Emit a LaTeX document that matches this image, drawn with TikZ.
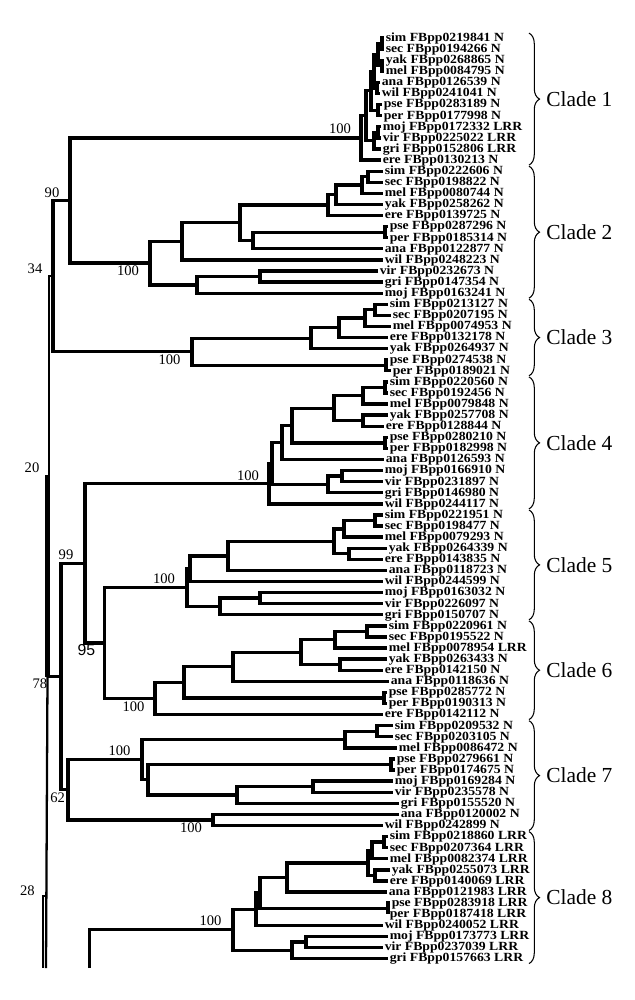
\documentclass[tikz,border=0pt]{standalone}
\usepackage{fontspec}
\setmainfont{Liberation Serif}
\newfontfamily\sansnum{Liberation Sans}
\newfontfamily\leaffont[FakeStretch=1.1]{Liberation Serif}
\usepackage{tikz}
\usetikzlibrary{calc}
\usetikzlibrary{decorations.pathreplacing}
\tikzset{leaf/.style={anchor=west, inner xsep=0.8pt, inner ysep=0pt, font=\leaffont\bfseries\fontsize{7.1}{7.5}\selectfont, text height=4.8pt, text depth=1pt}}
\tikzset{boot/.style={inner sep=0pt, font=\fontsize{8.3}{9}\selectfont}}
\tikzset{branch/.style={line width=1.9pt}}
\tikzset{spine/.style={line width=1.3pt}}
\tikzset{cladebrace/.style={decorate, decoration={brace, amplitude=6pt}, line width=0.6pt}}
\tikzset{cladename/.style={anchor=west, inner sep=0pt, font=\fontsize{12.2}{14}\selectfont}}
% leaf: name, row, tip x, text
\newcommand{\tipleaf}[4]{\coordinate (#1) at (#3,{38.1+11.09*#2}); \node[leaf] (#1t) at (#1) {#4};}
% inner node: name, x, upper child, lower child
\newcommand{\clnode}[4]{\path let \p1=(#3), \p2=(#4) in coordinate (#1) at ({#2*0.02cm},{0.5*(\y1+\y2)}); \draw[branch] (#3) -| (#1) |- (#4);}
% brace: name, first row, last row, text
\newcommand{\markclade}[4]{\coordinate (#1u) at (529,{38.1+11.09*#2-5}); \coordinate (#1d) at (529,{38.1+11.09*#3+5}); \draw[cladebrace] (#1u) -- (#1d); \node[cladename] (#1) at (546,{38.1+11.09*(#2+#3)/2}) {#4};}

\begin{document}
\begin{tikzpicture}[x=0.02cm, y=-0.02cm]
\useasboundingbox (0,0) rectangle (635,1000);

% clade 1
\tipleaf{aSim}{0}{384}{sim FBpp0219841 N}
\tipleaf{aSec}{1}{384}{sec FBpp0194266 N}
\tipleaf{aYak}{2}{384}{yak FBpp0268865 N}
\tipleaf{aMel}{3}{384}{mel FBpp0084795 N}
\tipleaf{aAna}{4}{380}{ana FBpp0126539 N}
\tipleaf{aWil}{5}{380}{wil FBpp0241041 N}
\tipleaf{aPse}{6}{382}{pse FBpp0283189 N}
\tipleaf{aPer}{7}{382}{per FBpp0177998 N}
\tipleaf{aMoj}{8}{381}{moj FBpp0172332 LRR}
\tipleaf{aVir}{9}{381}{vir FBpp0225022 LRR}
\tipleaf{aGri}{10}{381}{gri FBpp0152806 LRR}
\tipleaf{aEre}{11}{381}{ere FBpp0130213 N}
\clnode{a1}{382}{aSim}{aSec}
\clnode{a2}{382}{aYak}{aMel}
\clnode{a3}{378}{a1}{a2}
\clnode{a4}{377}{aAna}{aWil}
\clnode{a5}{374}{a3}{a4}
\clnode{a6}{378}{aPse}{aPer}
\clnode{a7}{371}{a5}{a6}
\clnode{a8}{378}{aMoj}{aVir}
\clnode{a9}{374}{a8}{aGri}
\clnode{a10}{366}{a7}{a9}
\clnode{a11}{361}{a10}{aEre}

% clade 2
\tipleaf{bSim}{12}{383}{sim FBpp0222606 N}
\tipleaf{bSec}{13}{383}{sec FBpp0198822 N}
\tipleaf{bMel}{14}{383}{mel FBpp0080744 N}
\tipleaf{bYak}{15}{383}{yak FBpp0258262 N}
\tipleaf{bEre}{16}{383}{ere FBpp0139725 N}
\tipleaf{bPse}{17}{388}{pse FBpp0287296 N}
\tipleaf{bPer}{18}{388}{per FBpp0185314 N}
\tipleaf{bAna}{19}{383}{ana FBpp0122877 N}
\tipleaf{bWil}{20}{383}{wil FBpp0248223 N}
\tipleaf{bVir}{21}{378}{vir FBpp0232673 N}
\tipleaf{bGri}{22}{383}{gri FBpp0147354 N}
\tipleaf{bMoj}{23}{383}{moj FBpp0163241 N}
\clnode{b1}{368}{bSim}{bSec}
\clnode{b2}{362}{b1}{bMel}
\clnode{b3}{336}{b2}{bYak}
\clnode{b4}{328}{b3}{bEre}
\clnode{b5}{385}{bPse}{bPer}
\clnode{b6}{253}{b5}{bAna}
\clnode{b7}{240}{b4}{b6}
\clnode{b8}{182}{b7}{bWil}
\clnode{b9}{260}{bVir}{bGri}
\clnode{b10}{197}{b9}{bMoj}
\clnode{b11}{150}{b8}{b10}

% clade 3
\tipleaf{cSim}{24}{388}{sim FBpp0213127 N}
\tipleaf{cSec}{25}{391}{sec FBpp0207195 N}
\tipleaf{cMel}{26}{391}{mel FBpp0074953 N}
\tipleaf{cEre}{27}{388}{ere FBpp0132178 N}
\tipleaf{cYak}{28}{388}{yak FBpp0264937 N}
\tipleaf{cPse}{29}{388}{pse FBpp0274538 N}
\tipleaf{cPer}{30}{391}{per FBpp0189021 N}
\clnode{c1}{375}{cSim}{cSec}
\clnode{c2}{365}{c1}{cMel}
\clnode{c3}{339}{c2}{cEre}
\clnode{c4}{311}{c3}{cYak}
\clnode{c5}{386}{cPse}{cPer}
\clnode{c6}{192}{c4}{c5}

% clade 4
\tipleaf{dSim}{31}{388}{sim FBpp0220560 N}
\tipleaf{dSec}{32}{388}{sec FBpp0192456 N}
\tipleaf{dMel}{33}{388}{mel FBpp0079848 N}
\tipleaf{dYak}{34}{388}{yak FBpp0257708 N}
\tipleaf{dEre}{35}{384}{ere FBpp0128844 N}
\tipleaf{dPse}{36}{388}{pse FBpp0280210 N}
\tipleaf{dPer}{37}{388}{per FBpp0182998 N}
\tipleaf{dAna}{38}{384}{ana FBpp0126593 N}
\tipleaf{dMoj}{39}{383}{moj FBpp0166910 N}
\tipleaf{dVir}{40}{383}{vir FBpp0231897 N}
\tipleaf{dGri}{41}{383}{gri FBpp0146980 N}
\tipleaf{dWil}{42}{383}{wil FBpp0244117 N}
\clnode{d1}{385}{dSim}{dSec}
\clnode{d2}{363}{d1}{dMel}
\clnode{d3}{363}{dYak}{dEre}
\clnode{d4}{334}{d2}{d3}
\clnode{d5}{385}{dPse}{dPer}
\clnode{d6}{292}{d4}{d5}
\clnode{d7}{282}{d6}{dAna}
\clnode{d8}{342}{dMoj}{dVir}
\clnode{d9}{328}{d8}{dGri}
\clnode{d10}{272}{d7}{d9}
\clnode{d11}{269}{d10}{dWil}

% clade 5
\tipleaf{eSim}{43}{383}{sim FBpp0221951 N}
\tipleaf{eSec}{44}{383}{sec FBpp0198477 N}
\tipleaf{eMel}{45}{383}{mel FBpp0079293 N}
\tipleaf{eYak}{46}{387}{yak FBpp0264339 N}
\tipleaf{eEre}{47}{383}{ere FBpp0143835 N}
\tipleaf{eAna}{48}{387}{ana FBpp0118723 N}
\tipleaf{eWil}{49}{383}{wil FBpp0244599 N}
\tipleaf{eMoj}{50}{383}{moj FBpp0163032 N}
\tipleaf{eVir}{51}{383}{vir FBpp0226097 N}
\tipleaf{eGri}{52}{383}{gri FBpp0150707 N}
\clnode{e1}{375}{eSim}{eSec}
\clnode{e2}{344}{e1}{eMel}
\clnode{e3}{349}{eYak}{eEre}
\clnode{e4}{334}{e2}{e3}
\clnode{e5}{228}{e4}{eAna}
\clnode{e6}{190}{e5}{eWil}
\clnode{e7}{260}{eMoj}{eVir}
\clnode{e8}{220}{e7}{eGri}
\clnode{e9}{187}{e6}{e8}

% clade 6
\tipleaf{fSim}{53}{387}{sim FBpp0220961 N}
\tipleaf{fSec}{54}{387}{sec FBpp0195522 N}
\tipleaf{fMel}{55}{387}{mel FBpp0078954 LRR}
\tipleaf{fYak}{56}{387}{yak FBpp0263433 N}
\tipleaf{fEre}{57}{383}{ere FBpp0142150 N}
\tipleaf{fAna}{58}{389}{ana FBpp0118636 N}
\tipleaf{fPse}{59}{387}{pse FBpp0285772 N}
\tipleaf{fPer}{60}{387}{per FBpp0190313 N}
\tipleaf{fEreB}{61}{383}{ere FBpp0142112 N}
\clnode{f1}{367}{fSim}{fSec}
\clnode{f2}{335}{f1}{fMel}
\clnode{f3}{340}{fYak}{fEre}
\clnode{f4}{301}{f2}{f3}
\clnode{f5}{233}{f4}{fAna}
\clnode{f6}{384}{fPse}{fPer}
\clnode{f7}{184}{f5}{f6}
\clnode{f8}{155}{f7}{fEreB}

% clade 7
\tipleaf{gSim}{62}{393}{sim FBpp0209532 N}
\tipleaf{gSec}{63}{393}{sec FBpp0203105 N}
\tipleaf{gMel}{64}{397}{mel FBpp0086472 N}
\tipleaf{gPse}{65}{395}{pse FBpp0279661 N}
\tipleaf{gPer}{66}{395}{per FBpp0174675 N}
\tipleaf{gMoj}{67}{393}{moj FBpp0169284 N}
\tipleaf{gVir}{68}{393}{vir FBpp0235578 N}
\tipleaf{gGri}{69}{399}{gri FBpp0155520 N}
\tipleaf{gAna}{70}{399}{ana FBpp0120002 N}
\tipleaf{gWil}{71}{383}{wil FBpp0242899 N}
\clnode{g1}{377}{gSim}{gSec}
\clnode{g2}{345}{g1}{gMel}
\clnode{g3}{391}{gPse}{gPer}
\clnode{g4}{313}{gMoj}{gVir}
\clnode{g5}{237}{g4}{gGri}
\clnode{g6}{148}{g3}{g5}
\clnode{g7}{142}{g2}{g6}
\clnode{g8}{213}{gAna}{gWil}

% clade 8
\tipleaf{hSim}{72}{388}{sim FBpp0218860 LRR}
\tipleaf{hSec}{73}{388}{sec FBpp0207364 LRR}
\tipleaf{hMel}{74}{388}{mel FBpp0082374 LRR}
\tipleaf{hYak}{75}{390}{yak FBpp0255073 LRR}
\tipleaf{hEre}{76}{388}{ere FBpp0140069 LRR}
\tipleaf{hAna}{77}{387}{ana FBpp0121983 LRR}
\tipleaf{hPse}{78}{390}{pse FBpp0283918 LRR}
\tipleaf{hPer}{79}{388}{per FBpp0187418 LRR}
\tipleaf{hWil}{80}{383}{wil FBpp0240052 LRR}
\tipleaf{hMoj}{81}{388}{moj FBpp0173773 LRR}
\tipleaf{hVir}{82}{383}{vir FBpp0237039 LRR}
\tipleaf{hGri}{83}{388}{gri FBpp0157663 LRR}
\clnode{h1}{384}{hSim}{hSec}
\clnode{h2}{372}{h1}{hMel}
\clnode{h3}{375}{hYak}{hEre}
\clnode{h4}{368}{h2}{h3}
\clnode{h5}{287}{h4}{hAna}
\clnode{h6}{388}{hPse}{hPer}
\clnode{h7}{260}{h5}{h6}
\clnode{h8}{256}{h7}{hWil}
\clnode{h9}{306}{hMoj}{hVir}
\clnode{h10}{292}{h9}{hGri}
\clnode{h11}{233}{h8}{h10}

% bootstrap values
\node[boot] (bs1) at (340,129) {100};
\node[boot] (bs2) at (128,271) {100};
\node[boot] (bs3) at (169.5,359.5) {100};
\node[boot] (bs4) at (248,476) {100};
\node[boot] (bs5) at (164,579) {100};
\node[boot] (bs6) at (133.5,706.5) {100};
\node[boot] (bs7) at (119.5,750.5) {100};
\node[boot] (bs7b) at (191,827.5) {100};
\node[boot] (bs8) at (210.5,920.5) {100};
\node[boot] (bs90) at (52,192.5) {90};
\node[boot] (bs34) at (35,268.5) {34};
\node[boot] (bs20) at (32,467.5) {20};
\node[boot] (bs99) at (66,554.5) {99};
\node[boot, font=\sansnum\fontsize{9}{10}\selectfont] (bs95) at (86.5,650.5) {95};
\node[boot] (bs78) at (40,683.5) {78};
\node[boot] (bs62) at (57.7,797.7) {62};
\node[boot] (bs28) at (27.5,890.5) {28};

% backbone
\clnode{n90}{70}{a11}{b11}
\clnode{n53}{53}{n90}{c6}
\clnode{n95}{104.3}{e9}{f8}
\clnode{n85}{85}{d11}{n95}
\clnode{n62}{68}{g7}{g8}
\clnode{n99}{61}{n85}{n62}
\coordinate (n34) at ($(n53)+(-4,0)$);
\coordinate (n20t) at (49,475);
\coordinate (n20) at (47.5,475);
\coordinate (n78) at (47.5,0 |- n99);
\coordinate (e78) at (46,968);
\coordinate (n28) at (42.7,896);
\coordinate (n28r) at (46,896);
\coordinate (e28) at (42.7,968);
\coordinate (n8s) at (89.3,0 |- h11);
\coordinate (e8s) at (89.3,968);
\draw[spine] (n53) -- (n34) -- (n20t);
\draw[line width=2.8pt] (n20) -- (n78);
\draw[branch] (n78) -- (n99);
\draw[spine] (n78) -- (e78);
\draw[spine] (n28r) -- (n28) -- (e28);
\draw[branch] (e8s) -- (n8s) -- (h11);

% clades
\markclade{cl1}{0}{11}{Clade 1}
\markclade{cl2}{12}{23}{Clade 2}
\markclade{cl3}{24}{30}{Clade 3}
\markclade{cl4}{31}{42}{Clade 4}
\markclade{cl5}{43}{52}{Clade 5}
\markclade{cl6}{53}{61}{Clade 6}
\markclade{cl7}{62}{71}{Clade 7}
\markclade{cl8}{72}{83}{Clade 8}
\end{tikzpicture}
\end{document}
